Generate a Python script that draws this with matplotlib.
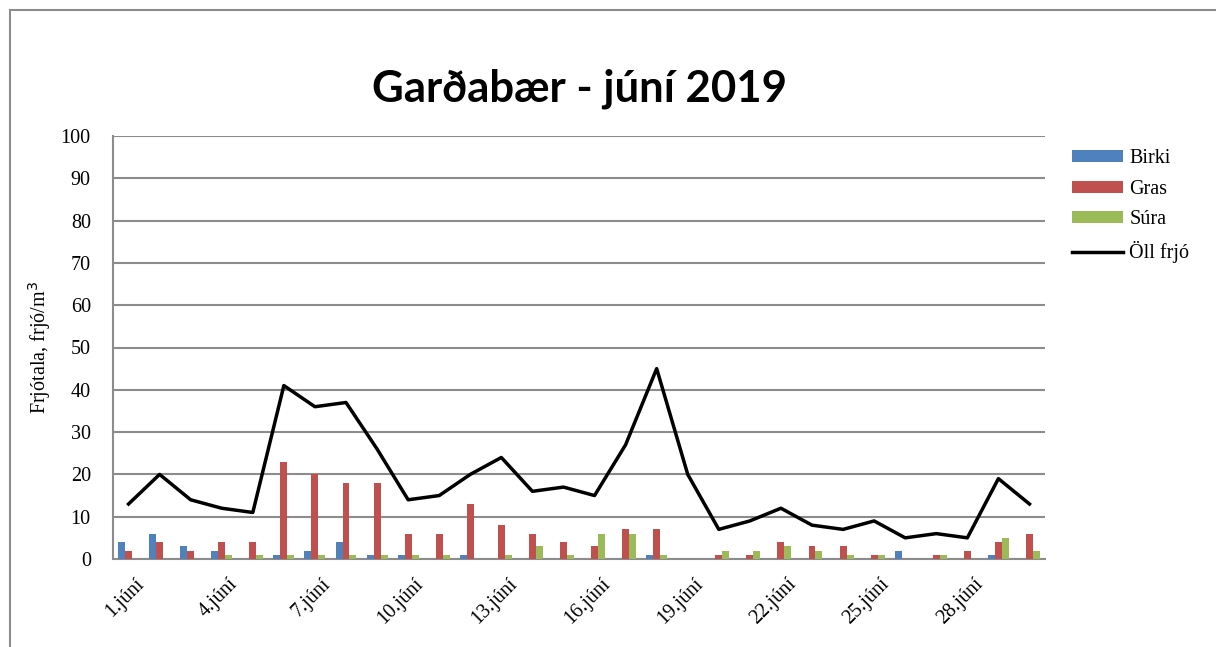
import matplotlib.pyplot as plt
from matplotlib.patches import Rectangle
import matplotlib.transforms as mtransforms
import numpy as np

# Gögn fyrir júní 2019
dagar = list(range(1, 31))
birki = [4, 6, 3, 2, 0, 1, 2, 4, 1, 1, 0, 1, 0, 0, 0, 0, 0, 1, 0, 0, 0, 0, 0, 0, 0, 2, 0, 0, 1, 0]
gras = [2, 4, 2, 4, 4, 23, 20, 18, 18, 6, 6, 13, 8, 6, 4, 3, 7, 7, 0, 1, 1, 4, 3, 3, 1, 0, 1, 2, 4, 6]
sura = [0, 0, 0, 1, 1, 1, 1, 1, 1, 1, 1, 0, 1, 3, 1, 6, 6, 1, 0, 2, 2, 3, 2, 1, 1, 0, 1, 0, 5, 2]
oll_frjo = [13, 20, 14, 12, 11, 41, 36, 37, 26, 14, 15, 20, 24, 16, 17, 15, 27, 45, 20, 7,
            9, 12, 8, 7, 9, 5, 6, 5, 19, 13]
merki_dagar = [1, 4, 7, 10, 13, 16, 19, 22, 25, 28]
merki_texti = [f"{d}.júní" for d in merki_dagar]

plt.rcParams['font.family'] = ['Liberation Serif', 'DejaVu Serif']

W, H = 1216, 647
fig = plt.figure(figsize=(W / 100, H / 100), dpi=100)
ax = fig.add_axes([113 / W, 1 - 559 / H, (1045 - 113) / W, (559 - 136) / H])

x = np.array(dagar)
b = 0.225
h1 = ax.bar(x - b, birki, width=b, color="#4F81BD", label="Birki", zorder=3)
h2 = ax.bar(x, gras, width=b, color="#C0504D", label="Gras", zorder=3)
h3 = ax.bar(x + b, sura, width=b, color="#9BBB59", label="Súra", zorder=3)
h4, = ax.plot(x, oll_frjo, color="black", linewidth=2.5, label="Öll frjó", zorder=4)

ax.set_xlim(0.5, 30.5)
ax.set_ylim(0, 100)
ax.set_yticks(range(0, 101, 10))
ax.set_xticks(merki_dagar)
ax.set_xticklabels(merki_texti, rotation=45, ha='right', va='top', rotation_mode='anchor')
ax.tick_params(axis='both', length=0, labelsize=14.5)
ax.tick_params(axis='x', pad=11)
ax.tick_params(axis='y', pad=16)
# færa dagsetningarnar aðeins til hægri
tilfaersla = mtransforms.ScaledTranslation(6 / 100, 0, fig.dpi_scale_trans)
for lbl in ax.get_xticklabels():
    lbl.set_transform(lbl.get_transform() + tilfaersla)

ax.grid(axis='y', color="#8C8C8C", linewidth=1.5, zorder=0)
for s in ['top', 'right']:
    ax.spines[s].set_visible(False)
for s in ['left', 'bottom']:
    ax.spines[s].set_color("#8C8C8C")
    ax.spines[s].set_linewidth(1.5)

ax.set_ylabel("Frjótala, frjó/m$^3$", fontsize=14.5)
ax.yaxis.set_label_coords(-60 / (1045 - 113), 0.5)

fig.text(580 / W, 1 - 89 / H, "Garðabær - júní 2019", fontsize=31.5, fontweight='bold',
         family=['Lato', 'DejaVu Sans'], ha='center', va='center')

leg = fig.legend([h1, h2, h3, h4], ["Birki", "Gras", "Súra", "Öll frjó"],
                 loc='upper left', bbox_to_anchor=(1064 / W, 1 - 141 / H), frameon=False,
                 fontsize=14.5, handlelength=2.55, handleheight=0.55, labelspacing=0.58,
                 handletextpad=0.3, borderaxespad=0)

# Rammi utan um myndina
fig.patches.append(Rectangle((10 / W, -0.1), 1.2, (H - 10) / H + 0.1, transform=fig.transFigure,
                             fill=False, edgecolor="#8C8C8C", linewidth=1.5))

fig.savefig("out.png", dpi=100)
